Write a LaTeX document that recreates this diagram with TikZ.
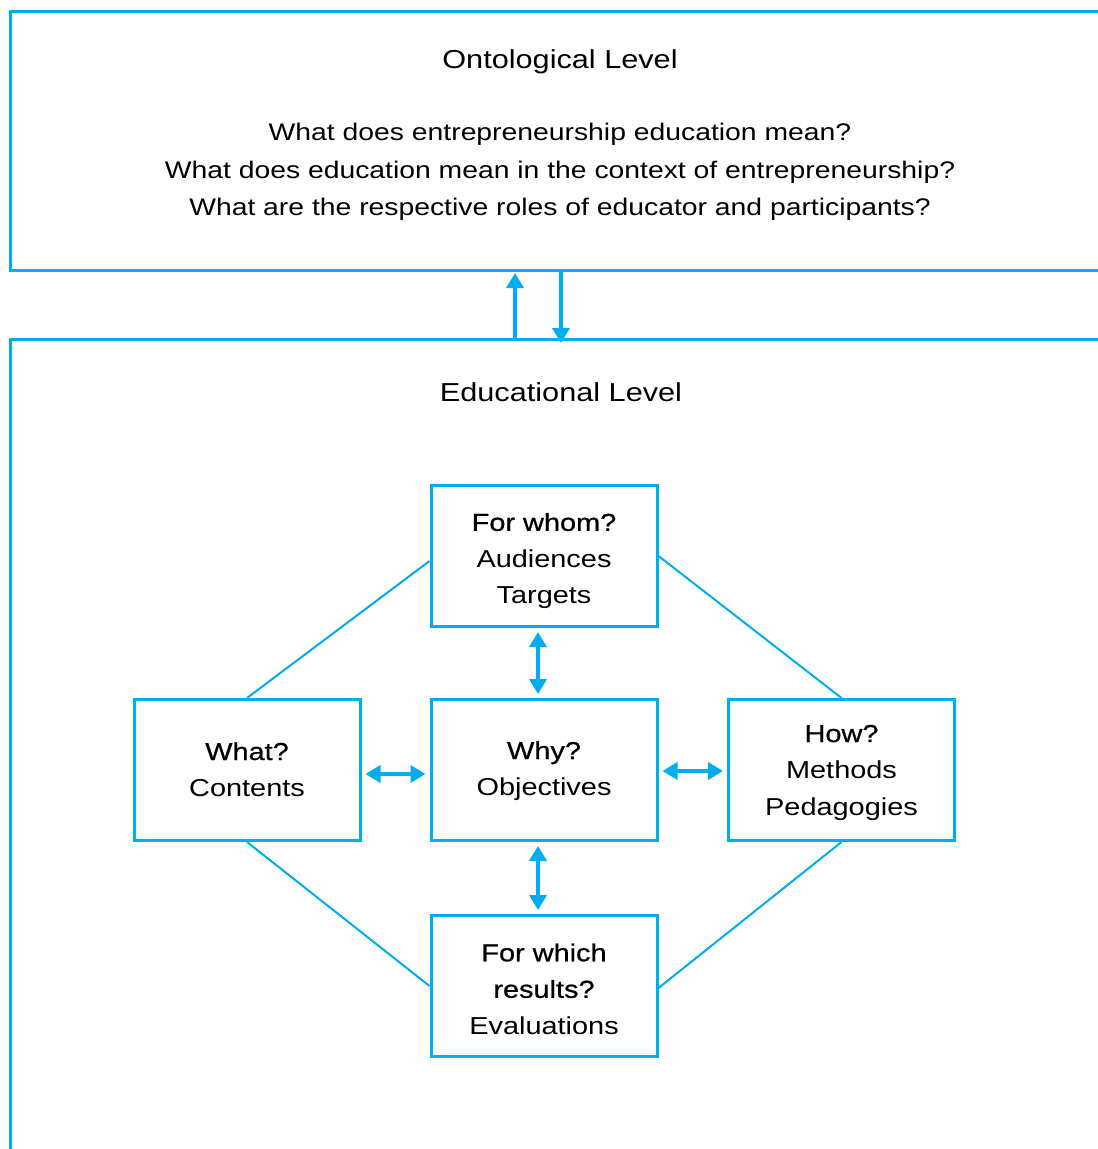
\documentclass[tikz,border=0pt]{standalone}
\usepackage{fontspec}
\setmainfont{Liberation Sans}[FakeStretch=1.18]
\newfontfamily\headfont{Liberation Sans}[FakeStretch=1.18,FakeBold=0.8]
\usetikzlibrary{arrows.meta,calc}
\definecolor{edublue}{RGB}{0,174,239}
\begin{document}
\begin{tikzpicture}[x=1pt,y=-1pt,
  frame/.style={draw=edublue,line width=3pt,rectangle,anchor=north west,inner sep=0pt},
  qbox/.style={draw=edublue,line width=3pt,rectangle,minimum width=226pt,minimum height=141pt,inner sep=0pt},
  qtext/.style={align=center,inner sep=0pt,font=\fontsize{24.5}{36.5}\selectfont},
  link/.style={draw=edublue,line width=2pt},
  arr/.style={draw=edublue,line width=4pt,-{Triangle[width=17pt,length=15pt]}},
  darr/.style={draw=edublue,line width=4pt,{Triangle[width=17pt,length=15pt]}-{Triangle[width=17pt,length=15pt]},shorten <=4pt,shorten >=4pt},
  title/.style={font=\fontsize{26}{30}\selectfont},
  ]
\useasboundingbox (0,0) rectangle (1098,1149);
\clip (0,0) rectangle (1098,1149);

% the two levels
\node[frame,minimum width=1110pt,minimum height=259pt] (onto) at (9,10) {};
\node[frame,minimum width=1110pt,minimum height=830pt] (edu) at (9,338) {};

\node[title] (ontotitle) at (560,62) {Ontological Level};
\node[align=center,font=\fontsize{24}{37.5}\selectfont] (ontoq) at (560,172)
  {What does entrepreneurship education mean?\\
   What does education mean in the context of entrepreneurship?\\
   What are the respective roles of educator and participants?};
\node[title] (edutitle) at (561,392) {Educational Level};

% exchange between the levels
\coordinate (up) at (515,0);
\coordinate (down) at (561,0);
\draw[arr] (up |- edu.north) -- ([yshift=-1pt]up |- onto.south);
\draw[arr] (down |- onto.south) -- ([yshift=-5pt]down |- edu.north);

% the five questions: boxes
\node[qbox] (fw) at (544,556) {};
\node[qbox] (what) at (247,770) {};
\node[qbox] (why) at (544,770) {};
\node[qbox] (how) at (841.5,770) {};
\node[qbox] (fr) at (544,986) {};

% the five questions: texts
\node[qtext] (fwt) at ([yshift=-5pt]fw.center) {{\headfont For whom?}\\Audiences\\Targets};
\node[qtext] (whatt) at ([yshift=0.5pt]what.center) {{\headfont What?}\\Contents};
\node[qtext] (whyt) at ([yshift=-1pt]why.center) {{\headfont Why?}\\Objectives};
\node[qtext] (howt) at ([yshift=-2.5pt]how.center) {{\headfont How?}\\Methods\\Pedagogies};
\node[qtext] (frt) at ([yshift=-3pt]fr.center) {{\headfont For which}\\{\headfont results?}\\Evaluations};

% outer diamond
\draw[link] ([yshift=-5pt]fw.west) -- (what.north);
\draw[link] (fw.east) -- (how.north);
\draw[link] (what.south) -- (fr.west);
\draw[link] (how.south) -- ([yshift=-2pt]fr.east);

% links to the centre
\draw[darr] ([xshift=-6pt]fw.south) -- ([xshift=-6pt]why.north);
\draw[darr] ([xshift=-6pt]why.south) -- ([xshift=-6pt]fr.north);
\draw[darr] ([yshift=-4pt]what.east) -- ([yshift=-4pt]why.west);
\draw[darr] ([yshift=-1pt]why.east) -- ([yshift=-1pt]how.west);
\end{tikzpicture}
\end{document}
